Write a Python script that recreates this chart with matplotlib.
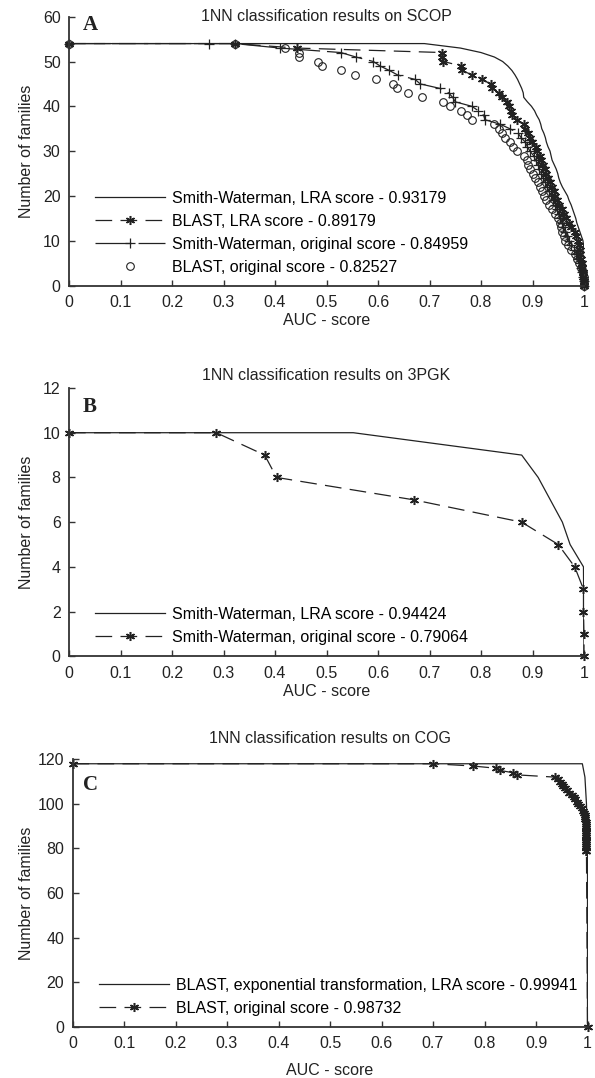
"""
1NN classification results (SCOP / 3PGK / COG) - cumulative AUC curves,
three stacked panels A, B, C.
"""

import matplotlib
matplotlib.use("Agg")
import matplotlib.pyplot as plt

plt.rcParams["font.family"] = ["Liberation Sans", "DejaVu Sans"]
plt.rcParams["font.size"] = 11.5
plt.rcParams["lines.scale_dashes"] = False

INK = "#222222"

# ---------------------------------------------------------------------------
# Data
# ---------------------------------------------------------------------------
XTICKS = [0, 0.1, 0.2, 0.3, 0.4, 0.5, 0.6, 0.7, 0.8, 0.9, 1.0]
XTICKLABELS = ["0", "0.1", "0.2", "0.3", "0.4", "0.5", "0.6", "0.7", "0.8", "0.9", "1"]

# --- panel A: SCOP ---------------------------------------------------------
scop_sw_lra_x = [0, 0.69, 0.76, 0.80, 0.826, 0.842, 0.852, 0.860, 0.866, 0.871,
                 0.875, 0.879, 0.882, 0.883, 0.890, 0.898, 0.904, 0.908, 0.913,
                 0.916, 0.918, 0.922, 0.925, 0.927, 0.930, 0.934, 0.936, 0.938,
                 0.942, 0.946, 0.949, 0.951, 0.954, 0.958, 0.963, 0.968, 0.971,
                 0.975, 0.978, 0.981, 0.984, 0.986, 0.989, 0.992, 0.995, 0.998,
                 0.999, 1.0, 1.0]
scop_sw_lra_y = [54, 54, 53, 52, 51, 50, 49, 48, 47, 46, 45, 44, 43, 42, 41, 40,
                 39, 38, 37, 36, 35, 34, 33, 32, 31, 30, 29, 28, 27, 26, 25, 24,
                 23, 22, 21, 20, 19, 18, 17, 16, 15, 14, 13, 12, 11, 10, 9, 8, 0]

scop_blast_lra_x = [0, 0.322, 0.442, 0.725, 0.725, 0.727, 0.762, 0.764, 0.782,
                    0.801, 0.819, 0.822, 0.834, 0.840, 0.851, 0.855, 0.858,
                    0.861, 0.869, 0.883, 0.886, 0.892, 0.896, 0.899, 0.906,
                    0.909, 0.914, 0.917, 0.921, 0.924, 0.927, 0.931, 0.934,
                    0.937, 0.941, 0.944, 0.948, 0.952, 0.957, 0.962, 0.966,
                    0.971, 0.975, 0.982, 0.985, 0.988, 0.990, 0.992, 0.993,
                    0.995, 0.996, 0.997, 0.998, 0.999, 1.0, 1.0]
scop_blast_lra_y = [54, 54, 53, 52, 51, 50, 49, 48, 47, 46, 45, 44, 43, 42, 41,
                    40, 39, 38, 37, 36, 35, 34, 33, 32, 31, 30, 29, 28, 27, 26,
                    25, 24, 23, 22, 21, 20, 19, 18, 17, 16, 15, 14, 13, 12, 11,
                    10, 9, 8, 7, 6, 5, 4, 3, 2, 1, 0]

scop_sw_orig_x = [0, 0.271, 0.322, 0.410, 0.528, 0.557, 0.591, 0.604, 0.622,
                  0.638, 0.672, 0.682, 0.720, 0.737, 0.745, 0.750, 0.782, 0.795,
                  0.805, 0.808, 0.837, 0.856, 0.872, 0.878, 0.886, 0.890, 0.895,
                  0.902, 0.906, 0.910, 0.913, 0.917, 0.921, 0.925, 0.928, 0.932,
                  0.936, 0.940, 0.944, 0.948, 0.951, 0.954, 0.957, 0.960, 0.963,
                  0.967, 0.971, 0.975, 0.980, 0.985, 0.988, 0.992, 0.995, 0.997,
                  0.999, 1.0, 1.0]
scop_sw_orig_y = [54, 54, 54, 53, 52, 51, 50, 49, 48, 47, 46, 45, 44, 43, 42, 41,
                  40, 39, 38, 37, 36, 35, 34, 33, 32, 31, 30, 29, 28, 27, 26, 25,
                  24, 23, 22, 21, 20, 19, 18, 17, 16, 15, 14, 13, 12, 11, 10, 9,
                  8, 7, 6, 5, 4, 3, 2, 1, 0]

scop_blast_orig_x = [0, 0.322, 0.419, 0.447, 0.447, 0.483, 0.492, 0.529, 0.556,
                     0.596, 0.630, 0.637, 0.658, 0.686, 0.727, 0.740, 0.761,
                     0.772, 0.782, 0.826, 0.835, 0.841, 0.847, 0.856, 0.863,
                     0.869, 0.883, 0.889, 0.892, 0.895, 0.900, 0.905, 0.910,
                     0.915, 0.919, 0.922, 0.926, 0.932, 0.938, 0.944, 0.949,
                     0.953, 0.955, 0.958, 0.961, 0.964, 0.969, 0.974, 0.982,
                     0.987, 0.991, 0.995, 0.998, 1.0, 1.0, 1.0]
scop_blast_orig_y = [54, 54, 53, 52, 51, 50, 49, 48, 47, 46, 45, 44, 43, 42, 41,
                     40, 39, 38, 37, 36, 35, 34, 33, 32, 31, 30, 29, 28, 27, 26,
                     25, 24, 23, 22, 21, 20, 19, 18, 17, 16, 15, 14, 13, 12, 11,
                     10, 9, 8, 7, 6, 5, 4, 3, 2, 1, 0]

# --- panel B: 3PGK ---------------------------------------------------------
pgk_sw_lra_x = [0, 0.552, 0.879, 0.911, 0.958, 0.973, 0.999, 1.0]
pgk_sw_lra_y = [10, 10, 9, 8, 6, 5, 4, 0]

pgk_sw_orig_x = [0, 0.286, 0.380, 0.403, 0.669, 0.879, 0.950, 0.982, 0.999,
                 0.999, 1.0, 1.0]
pgk_sw_orig_y = [10, 10, 9, 8, 7, 6, 5, 4, 3, 2, 1, 0]

# --- panel C: COG ----------------------------------------------------------
cog_blast_exp_x = [0, 0.990, 0.995, 0.998, 1.0, 1.0]
cog_blast_exp_y = [118, 118, 112, 100, 79, 0]

cog_blast_orig_x = [0, 0.700, 0.777, 0.822, 0.830, 0.855, 0.864, 0.937, 0.943,
                    0.947, 0.950, 0.953, 0.956, 0.960, 0.965, 0.969, 0.973,
                    0.976, 0.979, 0.982, 0.986, 0.989, 0.992, 0.994, 0.995,
                    0.996, 0.996, 0.997, 0.997, 0.997, 0.998, 0.998, 0.998,
                    0.998, 0.998, 0.998, 0.998, 0.998, 0.998, 0.998, 0.998,
                    0.998, 1.0]
cog_blast_orig_y = [118, 118, 117, 116, 115, 114, 113, 112, 111, 110, 109, 108,
                    107, 106, 105, 104, 103, 102, 101, 100, 99, 98, 97, 96, 95,
                    94, 93, 92, 91, 90, 89, 88, 87, 86, 85, 84, 83, 82, 81, 80,
                    79, 79, 0]

# ---------------------------------------------------------------------------
# Styles
# ---------------------------------------------------------------------------
SOLID = dict(color=INK, lw=0.9, linestyle="-")
DASH_STAR = dict(color=INK, lw=0.9, linestyle=(0, (12, 6)), marker=(6, 2, 0),
                 ms=6.5, mew=1.1, clip_on=False)
LONGDASH_PLUS = dict(color=INK, lw=0.9, linestyle=(0, (26, 5)), marker="+",
                     ms=7, mew=0.9, clip_on=False)
OPEN_CIRCLE = dict(color=INK, linestyle="none", marker="o", ms=5.5, mew=0.8,
                   mfc="none", clip_on=False)


def style_axes(ax, ymax, yticks):
    ax.set_xlim(0, 1)
    ax.set_ylim(0, ymax)
    ax.set_xticks(XTICKS)
    ax.set_xticklabels(XTICKLABELS)
    ax.set_yticks(yticks)
    for s in ("top", "right"):
        ax.spines[s].set_visible(False)
    for s in ("left", "bottom"):
        ax.spines[s].set_linewidth(1.3)
        ax.spines[s].set_color("#333333")
    ax.tick_params(direction="in", length=4, width=1, colors="#333333",
                   labelcolor=INK, pad=6)
    ax.tick_params(axis="x", pad=7)
    ax.text(0.5, -0.165 if ymax > 100 else -0.132, "AUC - score",
            transform=ax.transAxes, ha="center", va="center", color=INK)


def add_legend(ax, anchor):
    ax.legend(loc="center left", bbox_to_anchor=anchor, frameon=False,
              handlelength=4.4, handletextpad=0.4, labelspacing=0.5,
              borderpad=0, borderaxespad=0, numpoints=1, fontsize=11.5)


W, H = 595, 1078
fig = plt.figure(figsize=(W / 100, H / 100), dpi=100)

# ---------------------------------------------------------------------------
# Panel A
# ---------------------------------------------------------------------------
axA = fig.add_axes([69 / W, 1 - 285.5 / H, 515 / W, 268.8 / H])
axA.plot(scop_sw_lra_x, scop_sw_lra_y, label="Smith-Waterman, LRA score - 0.93179", **SOLID)
axA.plot(scop_blast_lra_x, scop_blast_lra_y, label="BLAST, LRA score - 0.89179", **DASH_STAR)
axA.plot(scop_sw_orig_x, scop_sw_orig_y, label="Smith-Waterman, original score - 0.84959", **LONGDASH_PLUS)
axA.plot(scop_blast_orig_x, scop_blast_orig_y, label="BLAST, original score - 0.82527", **OPEN_CIRCLE)
style_axes(axA, 60, [0, 10, 20, 30, 40, 50, 60])
axA.text(0.5, 1.0, "1NN classification results on SCOP", transform=axA.transAxes,
         ha="center", va="center", color=INK)
axA.text(-0.083, 0.5, "Number of families", transform=axA.transAxes, rotation=90,
         ha="center", va="center", color=INK)
axA.text(0.027, 0.969, "A", transform=axA.transAxes, ha="left", va="center",
         family="Liberation Serif", weight="bold", fontsize=15, color=INK)
add_legend(axA, (0.0505, 0.196))

# ---------------------------------------------------------------------------
# Panel B
# ---------------------------------------------------------------------------
axB = fig.add_axes([69 / W, 1 - 656.3 / H, 515 / W, 268.3 / H])
axB.plot(pgk_sw_lra_x, pgk_sw_lra_y, label="Smith-Waterman, LRA score - 0.94424", **SOLID)
axB.plot(pgk_sw_orig_x, pgk_sw_orig_y, label="Smith-Waterman, original score - 0.79064", **DASH_STAR)
style_axes(axB, 12, [0, 2, 4, 6, 8, 10, 12])
axB.text(0.5, 1.048, "1NN classification results on 3PGK", transform=axB.transAxes,
         ha="center", va="center", color=INK)
axB.text(-0.083, 0.5, "Number of families", transform=axB.transAxes, rotation=90,
         ha="center", va="center", color=INK)
axB.text(0.027, 0.929, "B", transform=axB.transAxes, ha="left", va="center",
         family="Liberation Serif", weight="bold", fontsize=15, color=INK)
add_legend(axB, (0.0505, 0.1135))

# ---------------------------------------------------------------------------
# Panel C
# ---------------------------------------------------------------------------
axC = fig.add_axes([72.5 / W, 1 - 1026.7 / H, 515 / W, 267.4 / H])
axC.plot(cog_blast_exp_x, cog_blast_exp_y,
         label="BLAST, exponential transformation, LRA score - 0.99941", **SOLID)
axC.plot(cog_blast_orig_x, cog_blast_orig_y, label="BLAST, original score - 0.98732", **DASH_STAR)
style_axes(axC, 120, [0, 20, 40, 60, 80, 100, 120])
axC.text(0.5, 1.076, "1NN classification results on COG", transform=axC.transAxes,
         ha="center", va="center", color=INK)
axC.text(-0.09, 0.5, "Number of families", transform=axC.transAxes, rotation=90,
         ha="center", va="center", color=INK)
axC.text(0.02, 0.903, "C", transform=axC.transAxes, ha="left", va="center",
         family="Liberation Serif", weight="bold", fontsize=15, color=INK)
add_legend(axC, (0.0515, 0.1116))

fig.savefig("out.png", dpi=100)
